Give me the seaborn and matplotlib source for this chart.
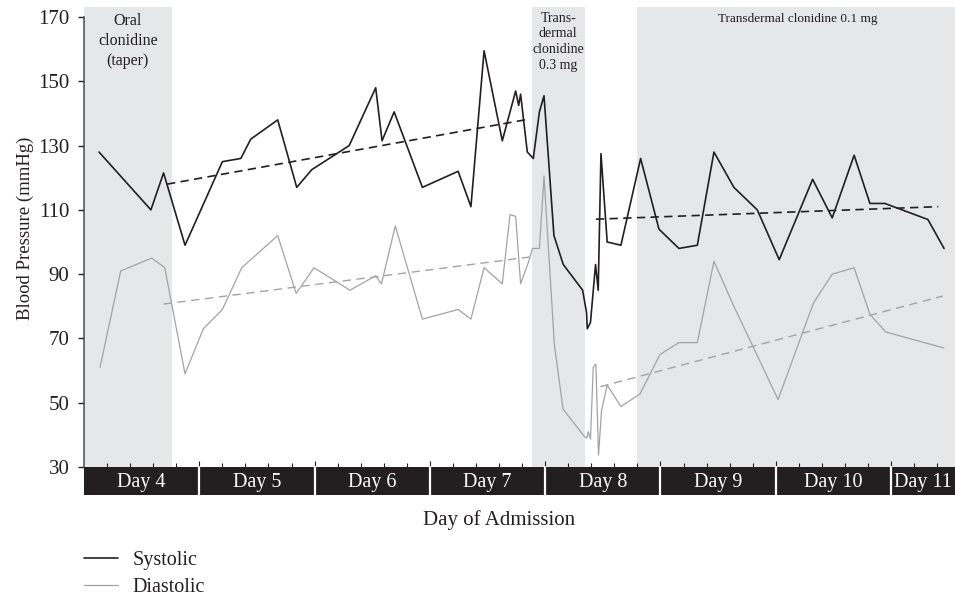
import numpy as np
import pandas as pd
import matplotlib.pyplot as plt
import seaborn as sns
from matplotlib.patches import Rectangle

# readings: time as fractional day of admission, pressure in mmHg
sys_day = [4.13, 4.58, 4.69, 4.876, 5.20, 5.36, 5.446, 5.68, 5.845, 5.975,
           6.30, 6.53, 6.585, 6.69, 6.935, 7.245, 7.356, 7.47, 7.628, 7.744,
           7.77, 7.787, 7.845, 7.897, 7.95, 7.99, 8.076, 8.157, 8.325, 8.359,
           8.365, 8.393, 8.437, 8.46, 8.484, 8.538, 8.657, 8.828, 8.987, 9.16,
           9.32, 9.464, 9.637, 9.84, 10.03, 10.32, 10.49, 10.68, 10.817, 10.947,
           11.32, 11.46]
sys_bp = [128, 110, 121.5, 99, 125, 126, 132, 138, 117, 122.5,
          130, 148, 131.5, 140.5, 117, 122, 111, 159.5, 131.5, 147,
          142.5, 146, 128, 126, 140.5, 145.5, 102, 93, 85, 78,
          73, 75, 93, 85, 127.5, 100, 99, 126, 104, 98,
          99, 128, 117, 110, 94.5, 119.5, 107.5, 127, 112, 112,
          107, 98]

dia_day = [4.139, 4.318, 4.587, 4.70, 4.876, 5.035, 5.20, 5.368, 5.68, 5.84,
           5.995, 6.307, 6.53, 6.58, 6.70, 6.935, 7.245, 7.356, 7.47, 7.628,
           7.695, 7.744, 7.787, 7.853, 7.89, 7.95, 7.99, 8.08, 8.155, 8.34,
           8.362, 8.374, 8.393, 8.417, 8.44, 8.463, 8.489, 8.538, 8.657, 8.822,
           8.996, 9.16, 9.32, 9.464, 9.637, 10.02, 10.327, 10.49, 10.68, 10.817,
           10.955, 11.46]
dia_bp = [61, 91, 95, 92, 59, 73, 79, 92, 102, 84,
          92, 85, 89.5, 87, 105, 76, 79, 76, 92, 87,
          108.5, 108, 87, 93.5, 98, 98, 120.5, 68, 48, 39.5,
          39, 41, 38.7, 61, 62, 33.7, 47.5, 55.5, 48.8, 52.7,
          65, 68.7, 68.7, 94, 80, 51, 81, 90, 92, 77.5,
          72, 67]

# trend lines (start, end) for the two periods
sys_trend_day = [(4.72, 7.87), (8.44, 11.41)]
sys_trend_bp = [(118, 138.3), (107.1, 111)]
dia_trend_day = [(4.69, 7.88), (8.48, 11.45)]
dia_trend_bp = [(80.7, 95.4), (55, 83.2)]

# treatment periods
phase_start = [4.0, 7.886, 8.80]
phase_end = [4.763, 8.345, 11.6]
phase_label = ['Oral\nclonidine\n(taper)', 'Trans-\ndermal\nclonidine\n0.3 mg',
               'Transdermal clonidine 0.1 mg']
phase_label_x = [4.379, 8.113, 10.19]
phase_label_y = [0.988, 0.991, 0.988]
phase_label_size = [11.5, 10, 9.5]
phase_label_spacing = [1.33, 1.28, 1.2]

days = [4, 5, 6, 7, 8, 9, 10, 11]

BLACK = '#231f20'
GRAY = '#a3a3a3'
SHADE = '#e6e7e8'

sns.set_theme(style='white')
plt.rcParams['font.family'] = ['Liberation Serif', 'DejaVu Serif']

fig = plt.figure(figsize=(9.55, 5.97), dpi=100)
ax = fig.add_axes([0.088, 0.2178, 0.912, 0.7698])
xmax = 11.555
ax.set_xlim(4, xmax)
ax.set_ylim(30, 173)

for s, e in zip(phase_start, phase_end):
    ax.axvspan(s, e, color=SHADE, lw=0, zorder=0)

trans = ax.get_xaxis_transform()
for lab, x, y, fs, ls in zip(phase_label, phase_label_x, phase_label_y,
                             phase_label_size, phase_label_spacing):
    ax.text(x, y, lab, transform=trans, ha='center', va='top',
            fontsize=fs, color=BLACK, linespacing=ls)

sys_df = pd.DataFrame({'day': sys_day, 'bp': sys_bp})
dia_df = pd.DataFrame({'day': dia_day, 'bp': dia_bp})
sns.lineplot(data=sys_df, x='day', y='bp', color=BLACK, lw=1.2,
             estimator=None, sort=False, label='Systolic', ax=ax)
sns.lineplot(data=dia_df, x='day', y='bp', color=GRAY, lw=0.9,
             estimator=None, sort=False, label='Diastolic', ax=ax)

for d, b in zip(sys_trend_day, sys_trend_bp):
    ax.plot(d, b, color=BLACK, lw=1.2, dashes=(5, 3.2))
for d, b in zip(dia_trend_day, dia_trend_bp):
    ax.plot(d, b, color=GRAY, lw=1.0, dashes=(6, 4))

# y axis
ax.set_yticks(range(30, 171, 20))
ax.tick_params(axis='y', direction='out', length=4.5, width=1, pad=6,
               labelsize=15, colors=BLACK, left=True)
for side in ['top', 'right', 'bottom']:
    ax.spines[side].set_visible(False)
ax.spines['left'].set_bounds(30, 170)
ax.spines['left'].set_color('#4a4a4a')
ax.spines['left'].set_linewidth(1.1)
ax.set_ylabel('Blood Pressure (mmHg)', fontsize=13.5, color=BLACK)
ax.yaxis.set_label_coords(-0.058, 0.52)

# x axis: ticks inside, day bar below
ax.set_xticks(days[1:])
ax.set_xticks(np.arange(4.2, xmax, 0.2), minor=True)
ax.tick_params(axis='x', which='both', direction='in', bottom=True,
               labelbottom=False, color=BLACK, width=0.8)
ax.tick_params(axis='x', which='major', length=4)
ax.tick_params(axis='x', which='minor', length=2.6)
ax.set_xlabel('')

bar_h = 0.061
ax.add_patch(Rectangle((4, -bar_h), xmax - 4, bar_h, transform=trans,
                       color=BLACK, lw=0, clip_on=False, zorder=3))
for d in days:
    if d > 4:
        ax.plot([d, d], [-bar_h, 0.0], transform=trans, color='white',
                lw=1.6, clip_on=False, zorder=4)
    c = (d + min(d + 1, xmax)) / 2
    ax.text(c, -bar_h / 2 - 0.004, f'Day {d}', transform=trans, ha='center',
            va='center', color='white', fontsize=14.5, zorder=5)

fig.text(499 / 955, 1 - 520 / 597, 'Day of Admission', ha='center',
         va='center', fontsize=15, color=BLACK)

leg = ax.legend(loc='upper left', bbox_to_anchor=(0.0, -0.1825),
                frameon=False, fontsize=14.5, handlelength=1.7,
                handletextpad=0.72, labelspacing=0.42, borderpad=0,
                borderaxespad=0)
for t in leg.get_texts():
    t.set_color(BLACK)

fig.savefig('out.png', dpi=100)
